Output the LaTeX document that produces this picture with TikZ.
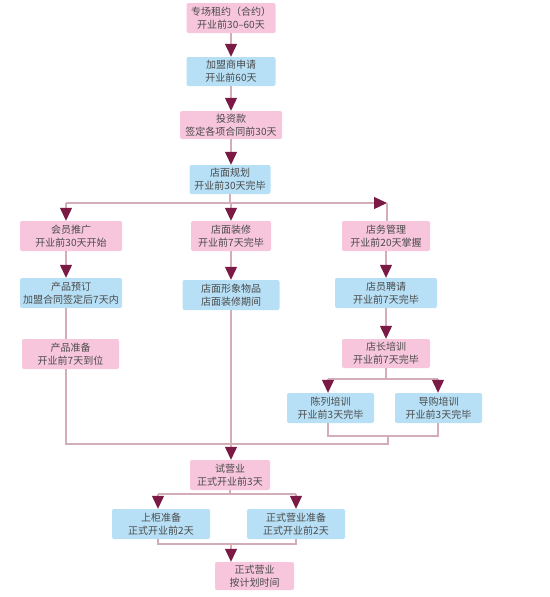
\documentclass[tikz,border=0pt]{standalone}
\usepackage{fontspec}
\newfontfamily\cjk{Noto Sans CJK SC}
\usetikzlibrary{arrows.meta}
\definecolor{pinkbox}{HTML}{F7C6DC}
\definecolor{bluebox}{HTML}{B7E0F6}
\definecolor{linec}{HTML}{D3ADB8}
\definecolor{arrowc}{HTML}{7A1A45}
\definecolor{txt}{HTML}{4A4A4A}
\begin{document}
\begin{tikzpicture}[x=1pt,y=-1pt,
 box/.style={rounded corners=2pt, inner sep=0pt, align=center, text=txt,
   font=\cjk\fontsize{10}{13}\selectfont, minimum height=30pt},
 pk/.style={box, fill=pinkbox},
 bl/.style={box, fill=bluebox},
 ln/.style={draw=linec, line width=1.2pt},
 ar/.style={ln, -{Triangle[width=12pt,length=13pt,color=arrowc]}}
]
\useasboundingbox (0,0) rectangle (549,597);
% nodes
\node[pk, minimum width=89pt] (n1) at (231,18) {专场租约（合约）\\开业前30–60天};
\node[bl, minimum width=89pt, minimum height=29pt] (n2) at (231,71.5) {加盟商申请\\开业前60天};
\node[pk, minimum width=102pt, minimum height=28pt] (n3) at (231,125) {投资款\\签定各项合同前30天};
\node[bl, minimum width=81pt, minimum height=29pt] (n4) at (230,179.5) {店面规划\\开业前30天完毕};
\node[pk, minimum width=102pt] (n5) at (71,236) {会员推广\\开业前30天开始};
\node[pk, minimum width=80pt] (n6) at (231,236) {店面装修\\开业前7天完毕};
\node[pk, minimum width=88pt] (n7) at (386,236) {店务管理\\开业前20天掌握};
\node[bl, minimum width=102pt] (n8) at (71,293) {产品预订\\加盟合同签定后7天内};
\node[bl, minimum width=97pt] (n9) at (231,295) {店面形象物品\\店面装修期间};
\node[bl, minimum width=102pt] (n10) at (386,293) {店员聘请\\开业前7天完毕};
\node[pk, minimum width=97pt] (n11) at (70.5,354) {产品准备\\开业前7天到位};
\node[pk, minimum width=88pt, minimum height=29pt] (n12) at (386,353.5) {店长培训\\开业前7天完毕};
\node[bl, minimum width=87pt] (n13) at (330.5,408) {陈列培训\\开业前3天完毕};
\node[bl, minimum width=87pt] (n14) at (438.5,408) {导购培训\\开业前3天完毕};
\node[pk, minimum width=80pt] (n15) at (230,475) {试营业\\正式开业前3天};
\node[bl, minimum width=98pt] (n16) at (161,524) {上柜准备\\正式开业前2天};
\node[bl, minimum width=98pt] (n17) at (296,524) {正式营业准备\\正式开业前2天};
\node[pk, minimum width=79pt, minimum height=28pt] (n18) at (254.5,576) {正式营业\\按计划时间};
% junction coordinates
\coordinate (j1) at (66,203);
\coordinate (j2) at (387,203);
\coordinate (jb1) at (328,379);
\coordinate (jb2) at (438,379);
\coordinate (jt1) at (328,436);
\coordinate (jt2) at (438,436);
\coordinate (jL) at (66,444);
\coordinate (jR) at (388,444);
\coordinate (jc1) at (158,494);
\coordinate (jc2) at (296,494);
\coordinate (jd1) at (158,544);
\coordinate (jd2) at (296,544);
\coordinate (jd3) at (231,544);
% top chain
\draw[ar] (n1.south) -- (n2.north);
\draw[ar] (n2.south) -- (n3.north);
\draw[ar] (n3.south) -- (n3.south |- n4.north);
% split below planning
\draw[ln] (n4.south) -- (n4.south |- j1);
\draw[ar] (j1) -- (j2);
\draw[ln] (j2) -- (j2 |- n7.north);
\draw[ar] (j1) -- (j1 |- n5.north);
\draw[ar] (n6.north |- j1) -- (n6.north);
% left column
\draw[ar] (j1 |- n5.south) -- (j1 |- n8.north);
\draw[ln] (j1 |- n8.south) -- (j1 |- n11.north);
\draw[ln] (j1 |- n11.south) -- (jL) -- (jR) -- (jR |- jt1);
% middle column
\draw[ar] (n6.south) -- (n9.north);
\draw[ar] (n9.south) -- (n9.south |- n15.north);
% right column
\draw[ar] (n7.south) -- (n10.north);
\draw[ar] (n10.south) -- (n12.north);
\draw[ln] (n12.south) -- (n12.south |- jb1);
\draw[ln] (jb1) -- (jb2);
\draw[ar] (jb1) -- (jb1 |- n13.north);
\draw[ar] (jb2) -- (jb2 |- n14.north);
\draw[ln] (jt1 |- n13.south) -- (jt1) -- (jt2) -- (jt2 |- n14.south);
% bottom
\draw[ln] (n15.south) -- (n15.south |- jc1);
\draw[ln] (jc1) -- (jc2);
\draw[ar] (jc1) -- (jc1 |- n16.north);
\draw[ar] (jc2) -- (jc2 |- n17.north);
\draw[ln] (jd1 |- n16.south) -- (jd1) -- (jd2) -- (jd2 |- n17.south);
\draw[ar] (jd3) -- (jd3 |- n18.north);
\end{tikzpicture}
\end{document}
